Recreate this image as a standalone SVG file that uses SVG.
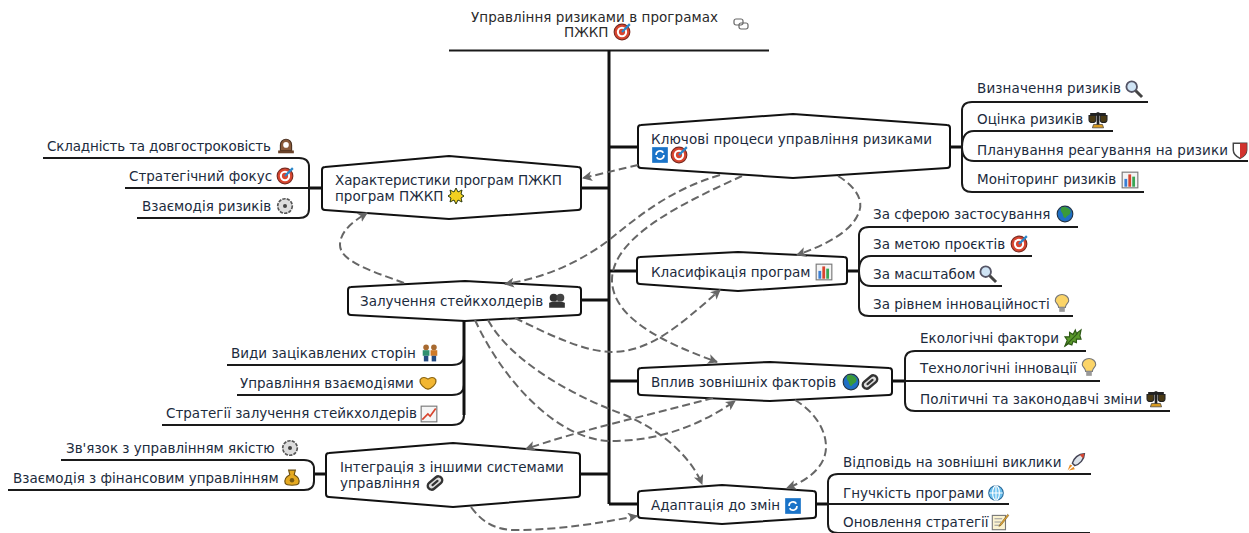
<svg xmlns="http://www.w3.org/2000/svg" xmlns:xlink="http://www.w3.org/1999/xlink" width="1249" height="533" viewBox="0 0 1249 533">
<style>
text{font-family:"DejaVu Sans","Liberation Sans",sans-serif;font-size:13.5px;fill:#1c2b3d}
.title{fill:#2a2a2a;font-size:13.5px}
.hex{fill:#fff;stroke:#111;stroke-width:2;stroke-linejoin:round}
.trunk{fill:none;stroke:#111;stroke-width:3}
.kid{fill:none;stroke:#1a1a1a;stroke-width:2}
.dash{fill:none;stroke:#666;stroke-width:2;stroke-dasharray:8 4;marker-end:url(#arr)}
</style>
<defs>
<marker id="arr" markerUnits="userSpaceOnUse" markerWidth="12" markerHeight="12" refX="9" refY="5" orient="auto"><path d="M0,0L10,5L0,10L2.5,5Z" fill="#666"/></marker>
<g id="i-target" transform="scale(1.12)"><circle r="7" fill="#d8452f" stroke="#7a2a20"/><circle r="4.6" fill="#fff"/><circle r="2.8" fill="#d8452f"/><path d="M0,0L7,-7" stroke="#2a86c8" stroke-width="2"/></g>
<g id="i-search" transform="scale(1.15)"><circle cx="-2" cy="-2" r="4.6" fill="#cfe4f5" stroke="#556" stroke-width="1.6"/><path d="M1.5,1.5L7,7" stroke="#444" stroke-width="2.6"/></g>
<g id="i-scales" transform="scale(1.12)"><path d="M-7,-5H7M0,-7V5" stroke="#222" stroke-width="2.400"/><path d="M-8,-4L-8,0C-8,3 -2,3 -2,0L-2,-4ZM2,-4L2,0C2,3 8,3 8,0L8,-4Z" fill="#4a3a14" stroke="#222"/><path d="M-4,4H4L5,7H-5Z" fill="#d89a20" stroke="#333" stroke-width=".6"/></g>
<g id="i-shield" transform="scale(1.12)"><path d="M-6,-6H6V0C6,4 2,6.500 0,7.500C-2,6.500 -6,4 -6,0Z" fill="#fff" stroke="#444" stroke-width="1.300"/><path d="M0,-6H6V0C6,4 2,6.500 0,7.500Z" fill="#d2322d"/></g>
<g id="i-chart" transform="scale(1.12)"><rect x="-7" y="-7" width="14" height="14" fill="#f4f4f4" stroke="#777"/><rect x="-5" y="-1" width="2.500" height="7" fill="#3a7fd5"/><rect x="-1.500" y="-5" width="2.500" height="11" fill="#d8452f"/><rect x="2" y="-3" width="2.500" height="9" fill="#3aa655"/></g>
<g id="i-globe" transform="scale(1.12)"><circle r="7" fill="#1f6fc4" stroke="#234"/><path d="M-3,-6C0,-7 5,-5 5,-2C5,1 2,1 1,3C0,5 -2,2 -2,0C-3,-2 -5,-3 -3,-6Z" fill="#3a9a3a"/></g>
<g id="i-bulb" transform="scale(1.12)"><path d="M-3,3C-3,0 -6,-1 -6,-3A6,5.500 0 0 1 6,-3C6,-1 3,0 3,3Z" fill="#fbd468" stroke="#777"/><rect x="-2.500" y="3" width="5" height="4" fill="#999"/></g>
<g id="i-leaf" transform="scale(1.15)"><path d="M-7,7L-5,2L-7,-1L-3,-1L-3,-5L0,-3L2,-7L3,-4L7,-7L6,-2L7,1L3,1L3,4L0,3L-1,6L-4,5Z" fill="#5a9a2a" stroke="#2f5a16"/><path d="M-7,7L4,-4" stroke="#2f5a16"/></g>
<g id="i-clip" transform="scale(1.1)"><rect x="-7.500" y="-3.500" width="15" height="7" rx="3.500" transform="rotate(-40)" fill="#ddd" stroke="#333" stroke-width="2.200"/><rect x="-4" y="-1" width="8" height="2" rx="1" transform="rotate(-40)" fill="#333"/></g>
<g id="i-link"><rect x="-7" y="-5" width="9" height="6" rx="2" fill="none" stroke="#666" stroke-width="1.200"/><rect x="-2" y="-1" width="9" height="6" rx="2" fill="none" stroke="#666" stroke-width="1.200"/></g>
<g id="i-refresh" transform="scale(1.12)"><rect x="-7" y="-7" width="14" height="14" fill="#1a73c8"/><path d="M-3.500,0A3.500,3.500 0 0 1 3,-2M3.500,0A3.500,3.500 0 0 1 -3,2" fill="none" stroke="#fff" stroke-width="1.500"/></g>
<g id="i-clock" transform="scale(1.12)"><path d="M-5,4V-1A5,5 0 0 1 5,-1V4Z" fill="#8a5a3a" stroke="#4a3020"/><rect x="-7" y="4" width="14" height="2.500" fill="#6a4228"/><circle cy="-1" r="2.500" fill="#fff"/></g>
<g id="i-gear" transform="scale(1.12)"><circle r="6.500" fill="#ddd" stroke="#555" stroke-width="1.500" stroke-dasharray="3 1"/><circle r="1.800" fill="#444"/></g>
<g id="i-group" transform="scale(1.12)"><circle cx="-3" cy="-3" r="3.500" fill="#333"/><circle cx="3" cy="-3" r="3.500" fill="#444"/><path d="M-7,6V2C-7,0 7,0 7,2V6Z" fill="#333"/></g>
<g id="i-couple" transform="scale(1.12)"><circle cx="-3.500" cy="-5" r="2.500" fill="#a86a30"/><circle cx="3.500" cy="-5" r="2.500" fill="#a86a30"/><rect x="-6.500" y="-2.500" width="6" height="5" fill="#2f8f6f"/><rect x="0.500" y="-2.500" width="6" height="5" fill="#d07a28"/><rect x="-5.500" y="2.500" width="4" height="5" fill="#234a80"/><rect x="1.500" y="2.500" width="4" height="5" fill="#234a80"/></g>
<g id="i-hands" transform="scale(1.12)"><path d="M-7,-3C-5,-6 -2,-5 0,-3.500C2,-5 5,-6 7,-3C8,1 3,5 0,5.500C-3,5 -8,1 -7,-3Z" fill="#f2b632" stroke="#8a6410"/></g>
<g id="i-trend" transform="scale(1.12)"><rect x="-7" y="-7" width="14" height="14" fill="#f6f6f6" stroke="#777"/><path d="M-6,5L-1,0L1,2L6,-5" fill="none" stroke="#d8452f" stroke-width="1.500"/></g>
<g id="i-money" transform="scale(1.12)"><path d="M-3,-7H3L2,-3C6,-1 7,2 6,5C5,7 -5,7 -6,5C-7,2 -6,-1 -2,-3Z" fill="#e5a920" stroke="#6a4d10"/><circle cy="2" r="2" fill="#7a5a10"/></g>
<g id="i-rocket" transform="scale(1.2)"><path d="M7,-7C2,-7 -2,-3 -3,1L-1,3C3,2 7,-2 7,-7Z" fill="#dde3ea" stroke="#445" stroke-width="1.200"/><path d="M7,-7L3,-6L6,-3Z" fill="#d8452f"/><path d="M-3,3L-7,7L-5,2ZM-2,4L-6,7L-1,6Z" fill="#e88a20"/></g>
<g id="i-web" transform="scale(1.12)"><circle r="6.500" fill="#6cc0ee" stroke="#2a6a9a"/><path d="M-6,0H6M0,-6V6" stroke="#fff"/><ellipse rx="3" ry="6.500" fill="none" stroke="#fff"/></g>
<g id="i-memo" transform="scale(1.1)"><rect x="-7" y="-6" width="12" height="13" fill="#fbf3d0" stroke="#777"/><path d="M-5,-3H2M-5,0H1M-5,3H0" stroke="#999"/><path d="M7,-7L0,2L-1,4L1,3L8,-6Z" fill="#e6a732" stroke="#6a5020" stroke-width=".5"/></g>
<g id="i-star"><path d="M0,-8L2,-4L6,-6L5,-2L8,0L5,2L6,6L2,4L0,8L-2,4L-6,6L-5,2L-8,0L-5,-2L-6,-6L-2,-4Z" fill="#f3d020" stroke="#2a3a10"/></g>
</defs>

<g id="connectors">
<path class="kid" d="M449,50.500H769"/>
<path class="trunk" d="M609,50V504M581,188H609M581,300H609M580,474H609M609,147H638M609,271H638M609,381H638M609,504H638M950,147H962M847,271H859M892,381H905M816,504H828M310,188H322M314,474H327"/>
<path class="kid" d="M962,147V111Q962,102 972,102H1148M962,147Q962,131 974,131H1113M962,147Q962,161 974,161H1248M962,147V183Q962,192 972,192H1144"/>
<path class="kid" d="M859,271V236Q859,227 869,227H1078M859,271Q859,256 871,256H1032M859,271Q859,286 871,286H1002M859,271V307Q859,316 869,316H1073"/>
<path class="kid" d="M905,381V360Q905,351 915,351H1086M905,381H1100M905,381V402Q905,411 915,411H1170"/>
<path class="kid" d="M828,504V483Q828,474 838,474H1091M828,504H1009M828,504V524Q828,533 838,533H1090"/>
<path class="kid" d="M309,188V167Q309,158 299,158H43M309,188H125M309,188V209Q309,218 299,218H137"/>
<path class="kid" d="M464,355Q464,365 452,365H227M464,385Q464,395 452,395H237M464,415Q464,425 452,425H162"/>
<path class="trunk" d="M464,320V415"/>
<path class="kid" d="M314,474V469Q314,460 304,460H61M314,474V481Q314,490 304,490H8"/>
</g>

<g id="title"><text class="title" x="471" y="22" textLength="247" lengthAdjust="spacing">Управління ризиками в програмах</text><text class="title" x="564" y="37">ПЖКП</text><use xlink:href="#i-target" x="622" y="32"/><use xlink:href="#i-link" x="741" y="24"/></g>

<g id="n-keyprocess"><path class="hex" d="M641,125L793,114L947,125Q950,125 950,128V165Q950,168 947,168L793,178L641,168Q638,168 638,165V128Q638,125 641,125Z"/><text x="651" y="144" textLength="281" lengthAdjust="spacing">Ключові процеси управління ризиками</text><use xlink:href="#i-refresh" x="660" y="155"/><use xlink:href="#i-target" x="679" y="155"/></g>
<g id="k-1"><text x="977" y="93" textLength="144" lengthAdjust="spacing">Визначення ризиків</text><use xlink:href="#i-search" x="1134" y="89"/></g>
<g id="k-2"><text x="977" y="124">Оцінка ризиків</text><use xlink:href="#i-scales" x="1098" y="120"/></g>
<g id="k-3"><text x="977" y="155" textLength="251" lengthAdjust="spacing">Планування реагування на ризики</text><use xlink:href="#i-shield" x="1240" y="150"/></g>
<g id="k-4"><text x="977" y="184">Моніторинг ризиків</text><use xlink:href="#i-chart" x="1130" y="180"/></g>

<g id="n-char"><path class="hex" d="M325,167L449,156L578,167Q581,167 581,170V207Q581,210 578,210L449,219L325,210Q322,210 322,207V170Q322,167 325,167Z"/><text x="335" y="185" textLength="227" lengthAdjust="spacing">Характеристики програм ПЖКП</text><text x="335" y="201">програм ПЖКП</text><use xlink:href="#i-star" x="456" y="196"/></g>
<g id="c-1"><text x="47" y="151" textLength="224" lengthAdjust="spacing">Складність та довгостроковість</text><use xlink:href="#i-clock" x="286" y="146"/></g>
<g id="c-2"><text x="129" y="181">Стратегічний фокус</text><use xlink:href="#i-target" x="285" y="176"/></g>
<g id="c-3"><text x="142" y="211">Взаємодія ризиків</text><use xlink:href="#i-gear" x="285" y="206"/></g>

<g id="n-stake"><path class="hex" d="M351,287L465,281L578,287Q581,287 581,290V312Q581,315 578,315L465,321L351,315Q348,315 348,312V290Q348,287 351,287Z"/><text x="360" y="306">Залучення стейкхолдерів</text><use xlink:href="#i-group" x="557" y="301"/></g>
<g id="s-1"><text x="231" y="358">Види зацікавлених сторін</text><use xlink:href="#i-couple" x="430" y="353"/></g>
<g id="s-2"><text x="240" y="388">Управління взаємодіями</text><use xlink:href="#i-hands" x="428" y="383"/></g>
<g id="s-3"><text x="166" y="418">Стратегії залучення стейкхолдерів</text><use xlink:href="#i-trend" x="429" y="414"/></g>

<g id="n-class"><path class="hex" d="M640,257L738,252L844,257Q847,257 847,260V281Q847,284 844,284L738,291L640,284Q637,284 637,281V260Q637,257 640,257Z"/><text x="651" y="277">Класифікація програм</text><use xlink:href="#i-chart" x="824" y="272"/></g>
<g id="l-1"><text x="873" y="219">За сферою застосування</text><use xlink:href="#i-globe" x="1065" y="214"/></g>
<g id="l-2"><text x="873" y="249">За метою проєктів</text><use xlink:href="#i-target" x="1019" y="244"/></g>
<g id="l-3"><text x="873" y="279">За масштабом</text><use xlink:href="#i-search" x="988" y="274"/></g>
<g id="l-4"><text x="873" y="309">За рівнем інноваційності</text><use xlink:href="#i-bulb" x="1062" y="304"/></g>

<g id="n-external"><path class="hex" d="M641,368L770,362L889,368Q892,368 892,371V392Q892,395 889,395L770,401L641,395Q638,395 638,392V371Q638,368 641,368Z"/><text x="651" y="387">Вплив зовнішніх факторів</text><use xlink:href="#i-globe" x="851" y="382"/><use xlink:href="#i-clip" x="870" y="382"/></g>
<g id="e-1"><text x="920" y="343">Екологічні фактори</text><use xlink:href="#i-leaf" x="1073" y="338"/></g>
<g id="e-2"><text x="920" y="373">Технологічні інновації</text><use xlink:href="#i-bulb" x="1089" y="368"/></g>
<g id="e-3"><text x="920" y="404">Політичні та законодавчі зміни</text><use xlink:href="#i-scales" x="1156" y="399"/></g>

<g id="n-integr"><path class="hex" d="M329,453L453,443L577,453Q580,453 580,456V494Q580,497 577,497L453,507L329,497Q326,497 326,494V456Q326,453 329,453Z"/><text x="340" y="472">Інтеграція з іншими системами</text><text x="340" y="488">управління</text><use xlink:href="#i-clip" x="435" y="483"/></g>
<g id="i-1"><text x="66" y="453">Зв'язок з управлінням якістю</text><use xlink:href="#i-gear" x="290" y="448"/></g>
<g id="i-2"><text x="13" y="483">Взаємодія з фінансовим управлінням</text><use xlink:href="#i-money" x="292" y="478"/></g>

<g id="n-adapt"><path class="hex" d="M641,491L722,485L813,491Q816,491 816,494V515Q816,518 813,518L722,524L641,518Q638,518 638,515V494Q638,491 641,491Z"/><text x="651" y="510">Адаптація до змін</text><use xlink:href="#i-refresh" x="793" y="506"/></g>
<g id="a-1"><text x="843" y="467">Відповідь на зовнішні виклики</text><use xlink:href="#i-rocket" x="1076" y="462"/></g>
<g id="a-2"><text x="843" y="498">Гнучкість програми</text><use xlink:href="#i-web" x="996" y="493"/></g>
<g id="a-3"><text x="843" y="527">Оновлення стратегії</text><use xlink:href="#i-memo" x="1000" y="522"/></g>

<g id="links">
<path class="dash" d="M638,165C625,168 605,173 583,178"/>
<path class="dash" d="M720,175C670,190 640,215 609,240C580,262 545,278 505,284"/>
<path class="dash" d="M742,176C690,200 612,235 612,280C612,320 670,345 717,362"/>
<path class="dash" d="M838,176C855,186 864,200 859,212C852,232 825,245 797,255"/>
<path class="dash" d="M404,283C375,272 340,262 340,245C340,232 352,222 367,213"/>
<path class="dash" d="M515,318C550,335 585,352 612,352C650,352 680,325 720,290"/>
<path class="dash" d="M475,320C500,375 555,441 612,441C660,441 700,425 735,401"/>
<path class="dash" d="M488,320C510,360 570,395 625,415C660,430 690,455 702,484"/>
<path class="dash" d="M713,398C650,415 580,430 526,449"/>
<path class="dash" d="M795,400C815,412 826,430 826,447C826,465 810,480 787,488"/>
<path class="dash" d="M471,507C482,522 495,530 515,530C560,530 600,523 637,516"/>
</g>
</svg>
